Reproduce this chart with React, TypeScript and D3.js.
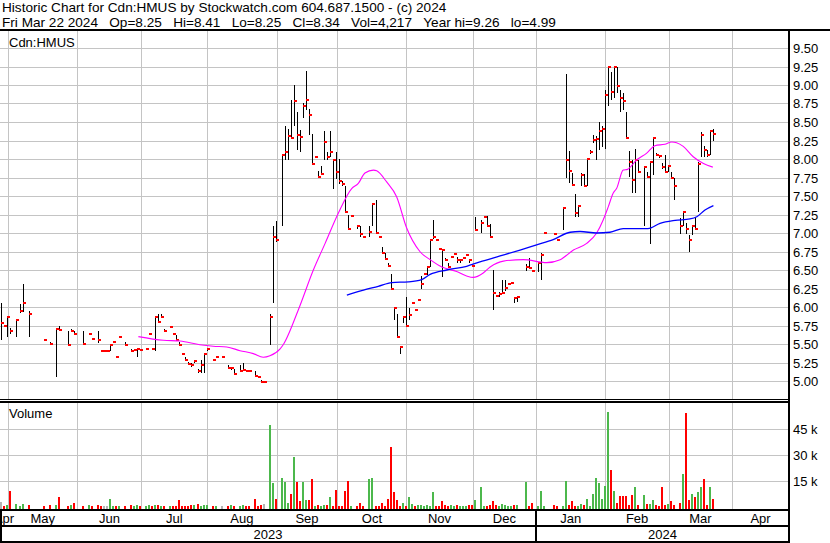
import React from 'react';
import * as d3 from 'd3';

// ---------- DATA ----------
// Weekday index 0 = Thu Apr 27 2023 (each weekday counts, holidays included)
const START = new Date(2023, 3, 27);

const days = [
  0, 1, 2, 3, 5, 6, 7, 9, 14, 16, 18, 19, 22, 23, 24,
  27, 29, 30, 32, 33, 34, 35, 36, 37, 38, 39, 41, 43, 44, 45, 46,
  48, 49, 50, 51, 52, 53, 54, 56, 57, 58, 59, 60, 61, 62, 63, 64, 65, 66, 67,
  68, 70, 71, 73, 75, 76, 77, 79, 80, 81, 82, 84, 85, 86, 87, 89, 90,
  91, 93, 94, 95, 96, 97, 98, 99, 100, 101, 102, 103, 104, 105, 106, 107, 108, 109, 110, 111,
  112, 113, 114, 115, 116, 118, 119, 120, 122, 123, 124, 125, 126, 127, 128, 129, 130, 131, 132, 133,
  134, 135, 136, 137, 138, 139, 140, 141, 142, 143, 144, 145, 146, 147, 148, 149, 150, 151, 152, 153, 154, 155,
  156, 157, 159, 160, 161, 162, 163, 164, 165, 166, 167, 168, 169, 170, 171, 174, 175, 176,
  178, 179, 180, 183, 184, 186, 187, 188, 189, 190, 191, 192, 193, 194, 195, 196, 197, 198, 199,
  200, 201, 202, 203, 204, 205, 206, 207, 208, 209, 210, 211, 213, 214, 215, 216, 217, 218, 219, 220,
  221, 222, 223, 225, 226, 227, 228, 229, 230, 231, 232, 233, 234, 235, 236,
];

const highs = [
  6.05, 5.76, 5.87, 5.71, 5.82, 6.04, 6.31, 5.94, 5.55, 5.53, 5.72, 5.75, 5.68, 5.70, 5.68,
  5.68, 5.65, 5.57, 5.68, 5.41, 5.41, 5.41, 5.50, 5.53, 5.33, 5.59, 5.53, 5.43, 5.42, 5.44, 5.42,
  5.43, 5.65, 5.43, 5.87, 5.91, 5.91, 5.70, 5.73, 5.65, 5.62, 5.53, 5.38, 5.32, 5.26, 5.24, 5.28, 5.16, 5.28, 5.36,
  5.43, 5.29, 5.32, 5.32, 5.22, 5.19, 5.16, 5.22, 5.24, 5.14, 5.13, 5.13, 5.05, 5.01, 4.99, 5.91, 7.09,
  7.16, 8.05, 8.44, 8.41, 8.80, 9.00, 8.64, 8.39, 8.76, 9.19, 8.68, 8.34, 8.03, 7.84, 7.90, 8.38, 8.09, 8.38, 7.99, 8.09,
  8.00, 7.70, 7.64, 7.24, 7.24, 7.11, 7.10, 6.94, 7.10, 7.39, 7.45, 6.94, 6.81, 6.73, 6.60, 6.45, 6.00, 5.91, 5.46, 5.88,
  6.13, 5.98, 6.05, 5.96, 6.09, 6.42, 6.44, 6.54, 6.91, 7.18, 6.90, 6.80, 6.77, 6.66, 6.60, 6.67, 6.72, 6.67, 6.65, 6.66, 6.70, 6.64,
  6.55, 7.22, 7.18, 7.21, 7.23, 7.12, 6.50, 6.15, 6.20, 6.36, 6.36, 6.31, 6.32, 6.12, 6.15, 6.58, 6.66, 6.49,
  6.61, 6.73, 7.00, 6.99, 6.90, 7.34, 9.15, 8.11, 7.81, 7.53, 7.37, 7.81, 7.80, 8.02, 8.12, 8.32, 8.31, 8.50, 8.44,
  8.93, 9.26, 9.18, 9.25, 9.25, 8.93, 8.89, 8.64, 8.11, 7.99, 8.14, 7.99, 7.90, 7.83, 7.96, 8.30, 8.08, 8.06, 7.94, 8.05,
  7.91, 7.83, 7.74, 7.20, 7.29, 7.13, 6.97, 7.09, 7.22, 7.96, 8.37, 8.17, 8.12, 8.38, 8.41,
];

const lows = [
  5.55, 5.73, 5.60, 5.64, 5.59, 5.92, 5.93, 5.59, 5.55, 5.50, 5.05, 5.69, 5.49, 5.67, 5.62,
  5.50, 5.62, 5.57, 5.51, 5.41, 5.41, 5.41, 5.41, 5.53, 5.33, 5.59, 5.49, 5.40, 5.42, 5.33, 5.42,
  5.43, 5.62, 5.43, 5.40, 5.78, 5.85, 5.67, 5.73, 5.63, 5.54, 5.47, 5.36, 5.29, 5.22, 5.19, 5.24, 5.11, 5.11, 5.11,
  5.40, 5.29, 5.32, 5.32, 5.16, 5.15, 5.08, 5.12, 5.13, 5.14, 5.13, 5.07, 5.05, 4.99, 4.99, 5.49, 6.05,
  6.88, 7.09, 7.99, 7.99, 8.29, 8.44, 8.12, 8.09, 8.55, 8.66, 8.32, 7.93, 8.03, 7.76, 7.80, 7.99, 7.99, 8.03, 7.60, 7.73,
  7.66, 7.63, 7.29, 7.06, 7.21, 7.06, 6.95, 6.94, 6.95, 7.09, 7.00, 6.94, 6.73, 6.63, 6.55, 6.25, 5.82, 5.58, 5.37, 5.79,
  5.75, 5.82, 6.05, 5.96, 6.09, 6.24, 6.44, 6.43, 6.54, 6.92, 6.90, 6.77, 6.40, 6.62, 6.53, 6.67, 6.72, 6.60, 6.59, 6.66, 6.70, 6.60,
  6.55, 7.04, 7.00, 7.21, 7.09, 6.94, 5.96, 6.15, 6.14, 6.18, 6.22, 6.31, 6.32, 6.05, 6.07, 6.48, 6.51, 6.49,
  6.47, 6.36, 7.00, 6.99, 6.90, 7.04, 7.74, 7.67, 7.64, 7.22, 7.22, 7.64, 7.64, 7.64, 8.07, 8.22, 7.99, 8.12, 8.16,
  8.13, 8.72, 8.80, 8.82, 8.89, 8.64, 8.66, 8.28, 7.76, 7.54, 7.54, 7.82, 7.09, 7.76, 6.85, 7.78, 8.04, 8.02, 7.86, 7.83,
  7.82, 7.73, 7.45, 6.98, 7.09, 6.99, 6.74, 6.97, 7.06, 7.29, 8.03, 8.03, 8.03, 8.05, 8.25,
];

const closes = [
  5.78, 5.74, 5.86, 5.68, 5.82, 5.94, 6.06, 5.91, 5.55, 5.50, 5.70, 5.69, 5.49, 5.68, 5.63,
  5.50, 5.63, 5.57, 5.55, 5.41, 5.41, 5.41, 5.49, 5.53, 5.33, 5.59, 5.49, 5.41, 5.42, 5.43, 5.42,
  5.43, 5.64, 5.43, 5.86, 5.80, 5.86, 5.68, 5.73, 5.64, 5.55, 5.48, 5.36, 5.29, 5.23, 5.21, 5.27, 5.13, 5.21, 5.36,
  5.43, 5.29, 5.32, 5.32, 5.17, 5.18, 5.09, 5.13, 5.15, 5.14, 5.13, 5.07, 5.05, 4.99, 4.99, 5.87, 6.94,
  6.90, 8.05, 8.09, 8.31, 8.29, 8.79, 8.32, 8.30, 8.72, 8.80, 8.59, 7.93, 8.03, 7.76, 7.80, 8.23, 8.03, 8.09, 7.99, 7.82,
  7.70, 7.66, 7.29, 7.06, 7.23, 7.09, 6.99, 6.94, 7.02, 7.39, 7.00, 6.94, 6.73, 6.65, 6.56, 6.25, 5.99, 5.59, 5.46, 5.87,
  5.75, 5.89, 6.05, 5.96, 6.09, 6.31, 6.44, 6.54, 6.90, 6.94, 6.90, 6.78, 6.77, 6.64, 6.54, 6.67, 6.72, 6.63, 6.64, 6.66, 6.70, 6.63,
  6.55, 7.04, 7.13, 7.21, 7.10, 6.94, 6.19, 6.15, 6.17, 6.19, 6.26, 6.31, 6.32, 6.12, 6.13, 6.54, 6.53, 6.49,
  6.60, 6.70, 7.00, 6.99, 6.90, 7.34, 7.99, 7.84, 7.65, 7.27, 7.36, 7.79, 7.64, 8.00, 8.09, 8.26, 8.27, 8.38, 8.41,
  8.86, 9.24, 8.90, 9.24, 8.99, 8.82, 8.79, 8.29, 7.96, 7.71, 7.99, 7.82, 7.89, 7.76, 7.96, 8.29, 8.05, 8.04, 7.89, 7.83,
  7.90, 7.74, 7.64, 7.09, 7.29, 7.06, 6.90, 7.09, 7.06, 7.93, 8.32, 8.12, 8.05, 8.38, 8.34,
];

const volumes = [
  2500, 300, 600, 9200, 1500, 500, 1500, 1100, 200, 700, 700, 5400, 300, 600, 2100,
  300, 600, 300, 600, 400, 200, 500, 4600, 200, 200, 200, 500, 1100, 200, 600, 200,
  200, 600, 200, 900, 1100, 200, 200, 200, 500, 500, 4000, 200, 200, 200, 600, 600, 1500, 500, 600,
  600, 200, 200, 200, 500, 1100, 500, 300, 600, 300, 500, 4600, 200, 1100, 1700, 47300, 13300,
  4600, 16700, 14400, 2300, 7500, 28300, 14400, 2900, 14400, 4000, 4000, 15600, 300, 800, 300, 800, 800, 5200, 500, 9800,
  200, 200, 8700, 15000, 500, 200, 2300, 200, 15600, 16700, 200, 200, 2300, 500, 4600, 34600, 8100, 3500, 500, 2300,
  200, 5200, 1700, 500, 600, 600, 200, 600, 500, 8100, 500, 200, 2900, 1100, 500, 1100, 500, 600, 200, 200, 200, 1100,
  600, 3500, 11500, 500, 500, 600, 2900, 600, 200, 1700, 1100, 200, 200, 600, 600, 14400, 200, 2300,
  200, 9200, 200, 600, 500, 500, 15000, 1100, 2900, 500, 500, 1700, 1100, 4600, 500, 7500, 16200, 13300, 4600,
  12100, 54800, 21300, 8700, 2300, 6300, 5800, 5800, 800, 6900, 11500, 800, 6900, 1700, 1700, 4000, 1100, 200, 11500, 1100,
  1700, 2900, 1100, 2300, 18500, 54200, 3500, 7500, 5200, 8100, 11500, 15600, 800, 11000, 4217,
];

// Moving averages (weekday index, price)
const maShortDays = [45.4, 53.7, 59.2, 65.8, 70.2, 74.7, 79.1, 83.5, 86.8, 89.0, 92.3, 93.4, 98.4, 103.4, 107.3, 111.7, 116.1, 118.3, 120.5, 123.3, 124.4, 127.7, 131.0, 134.3, 138.7, 142.1, 146.0, 150.9, 154.2, 156.4, 159.7, 162.0, 166.4, 173.0, 180.7, 185.2, 189.6, 194.0, 197.3, 199.5, 201.2, 202.8, 203.9, 206.1, 207.5, 210.6, 213.9, 216.6, 219.9, 222.2, 223.8, 226.0, 229.3, 232.7, 235.8];
const maShortVals = [5.60, 5.55, 5.54, 5.49, 5.47, 5.46, 5.41, 5.37, 5.32, 5.34, 5.43, 5.49, 5.96, 6.50, 6.86, 7.27, 7.60, 7.67, 7.81, 7.85, 7.84, 7.69, 7.49, 7.07, 6.75, 6.64, 6.54, 6.48, 6.42, 6.40, 6.46, 6.54, 6.62, 6.64, 6.60, 6.64, 6.77, 6.86, 7.00, 7.18, 7.36, 7.54, 7.60, 7.85, 7.86, 7.99, 8.08, 8.18, 8.20, 8.23, 8.22, 8.17, 8.03, 7.94, 7.89];
const maLongDays = [114.5, 119.4, 124.9, 129.4, 134.9, 139.3, 142.1, 147.6, 154.2, 158.6, 165.3, 171.9, 177.4, 182.9, 188.5, 191.8, 197.3, 201.7, 206.1, 214.3, 218.3, 223.3, 228.2, 230.5, 233.2, 236.0];
const maLongVals = [6.16, 6.22, 6.28, 6.33, 6.34, 6.37, 6.44, 6.50, 6.55, 6.61, 6.69, 6.77, 6.84, 6.91, 7.01, 7.02, 7.00, 7.01, 7.06, 7.06, 7.13, 7.17, 7.19, 7.22, 7.31, 7.37];

const priceTicks = [5.0, 5.25, 5.5, 5.75, 6.0, 6.25, 6.5, 6.75, 7.0, 7.25, 7.5, 7.75, 8.0, 8.25, 8.5, 8.75, 9.0, 9.25, 9.5];
const volumeTicks = [15000, 30000, 45000];
const monthNames = ['Apr', 'May', 'Jun', 'Jul', 'Aug', 'Sep', 'Oct', 'Nov', 'Dec', 'Jan', 'Feb', 'Mar', 'Apr'];
const monthStarts: [number, number][] = [
  [2023, 3], [2023, 4], [2023, 5], [2023, 6], [2023, 7], [2023, 8], [2023, 9], [2023, 10], [2023, 11],
  [2024, 0], [2024, 1], [2024, 2], [2024, 3], [2024, 4],
];
const years = ['2023', '2024'];

const headerLine1 = 'Historic Chart for Cdn:HMUS by Stockwatch.com 604.687.1500 - (c) 2024';
const headerFields = ['Fri Mar 22 2024', 'Op=8.25', 'Hi=8.41', 'Lo=8.25', 'Cl=8.34', 'Vol=4,217', 'Year hi=9.26', 'lo=4.99'];
const symbolLabel = 'Cdn:HMUS';

// ---------- LAYOUT ----------
const W = 830;
const H = 543;
const RIGHT = 789;
const FONT = '"Liberation Sans", Arial, Helvetica, sans-serif';
const GRID = '#c4c4c4';
const GAP = '\u00A0\u00A0\u00A0';

function weekdayIndex(d: Date): number {
  let n = 0;
  const t = new Date(START);
  while (t < d) {
    const wd = t.getDay();
    if (wd !== 0 && wd !== 6) n++;
    t.setDate(t.getDate() + 1);
  }
  return n;
}

export default function App() {
  const x = d3.scaleLinear().domain([0, 236]).range([1.4, 1.4 + 3.017 * 236]);
  const yP = d3.scaleLinear().domain([5, 9.5]).range([381, 48]);
  const yV = d3.scaleLinear().domain([0, 45000]).range([506.5, 428.5]);

  const boundaryX = monthStarts.map(([yy, mm]) => {
    const d = new Date(yy, mm, 1);
    if (d < START) return -100;
    const n = weekdayIndex(d);
    const wd = d.getDay();
    const idx = wd === 0 || wd === 6 ? n - 0.8 : n;
    return x(idx) + 0.6;
  });
  const gridMonthX = boundaryX.filter((v) => v > 0 && v < RIGHT);
  const janX = boundaryX[9];

  const priceLine = d3
    .line<[number, number]>()
    .x((d) => x(d[0]))
    .y((d) => yP(d[1]))
    .curve(d3.curveMonotoneX);

  const maShort = priceLine(maShortDays.map((d, k) => [d, maShortVals[k]] as [number, number])) || '';
  const maLong = priceLine(maLongDays.map((d, k) => [d, maLongVals[k]] as [number, number])) || '';

  return (
    <svg
      width={W}
      height={H}
      viewBox={`0 0 ${W} ${H}`}
      style={{ position: 'absolute', left: 0, top: 0, display: 'block', background: '#fff' }}
      fontFamily={FONT}
      fontSize={13}
    >
      <rect x={0} y={0} width={W} height={H} fill="#fff" />

      {/* header */}
      <text x={2} y={12} fill="#000" fontSize={13.6}>{headerLine1}</text>
      <text x={2} y={26.5} fill="#000" fontSize={13.6}>{headerFields.join(GAP)}</text>

      {/* price grid */}
      {priceTicks.map((t) => (
        <line key={'pg' + t} x1={0} x2={RIGHT} y1={Math.round(yP(t)) + 0.5} y2={Math.round(yP(t)) + 0.5} stroke={GRID} strokeWidth={1} />
      ))}
      {/* volume grid */}
      {volumeTicks.map((t) => (
        <line key={'vg' + t} x1={0} x2={RIGHT} y1={Math.round(yV(t)) + 0.5} y2={Math.round(yV(t)) + 0.5} stroke={GRID} strokeWidth={1} />
      ))}
      {/* month grid */}
      {gridMonthX.map((gx, k) => (
        <g key={'mg' + k}>
          <line x1={Math.round(gx) + 0.5} x2={Math.round(gx) + 0.5} y1={31} y2={399} stroke={GRID} strokeWidth={1} />
          <line x1={Math.round(gx) + 0.5} x2={Math.round(gx) + 0.5} y1={403} y2={509} stroke={GRID} strokeWidth={1} />
        </g>
      ))}

      <text x={9} y={46.5} fill="#000">{symbolLabel}</text>
      <text x={9} y={418} fill="#000">Volume</text>

      {/* volume bars */}
      {days.map((d, k) => {
        const bx = Math.round(x(d));
        const prev = k > 0 ? closes[k - 1] : closes[k];
        const diff = Math.round((closes[k] - prev) * 100);
        const col = diff > 0 ? '#4cb84c' : diff < 0 ? '#ff0000' : '#b4b4b4';
        const top = Math.min(Math.round(yV(volumes[k])), 507);
        return <rect key={'v' + k} x={bx - 1} y={top} width={2} height={509 - top} fill={col} />;
      })}

      {/* price bars */}
      {days.map((d, k) => {
        const bx = Math.round(x(d));
        const yh = Math.round(yP(highs[k]));
        const yl = Math.round(yP(lows[k]));
        const yc = Math.round(yP(closes[k]));
        return (
          <g key={'b' + k}>
            {highs[k] - lows[k] > 0.004 && <rect x={bx} y={yh} width={1} height={Math.max(1, yl - yh)} fill="#000" />}
            <rect x={bx} y={yc - 1} width={3} height={2} fill="#ff0000" />
          </g>
        );
      })}

      {/* moving averages */}
      <path d={maShort} fill="none" stroke="#ff00ff" strokeWidth={1.1} />
      <path d={maLong} fill="none" stroke="#0000ff" strokeWidth={1.3} />

      {/* frame */}
      <rect x={0} y={29} width={W} height={2} fill="#000" />
      <rect x={0} y={399} width={RIGHT} height={1} fill="#000" />
      <rect x={0} y={401} width={RIGHT} height={2} fill="#000" />
      <rect x={0} y={509} width={RIGHT} height={2} fill="#000" />
      <rect x={0} y={525} width={RIGHT} height={2} fill="#000" />
      <rect x={0} y={541} width={RIGHT} height={2} fill="#000" />
      <rect x={RIGHT - 1} y={29} width={2} height={H - 29} fill="#000" />
      <rect x={0} y={509} width={2} height={H - 509} fill="#000" />
      <rect x={Math.round(janX) - 1} y={509} width={2} height={H - 509} fill="#000" />

      {/* month labels */}
      {monthNames.map((m, k) => {
        const a = Math.max(0, boundaryX[k]);
        const b = Math.min(RIGHT, boundaryX[k + 1]);
        return (
          <text key={'ml' + k} x={(a + b) / 2} y={522.5} textAnchor="middle" fill="#000">{m}</text>
        );
      })}
      {/* year labels */}
      <text x={janX / 2} y={539} textAnchor="middle" fill="#000">{years[0]}</text>
      <text x={(janX + RIGHT) / 2} y={539} textAnchor="middle" fill="#000">{years[1]}</text>

      {/* right axis labels */}
      {priceTicks.map((t) => (
        <text key={'pl' + t} x={793} y={Math.round(yP(t)) + 4.7} fill="#000">{t.toFixed(2)}</text>
      ))}
      {volumeTicks.map((t) => (
        <text key={'vl' + t} x={793} y={Math.round(yV(t)) + 4.7} fill="#000">{`${t / 1000} k`}</text>
      ))}
    </svg>
  );
}
